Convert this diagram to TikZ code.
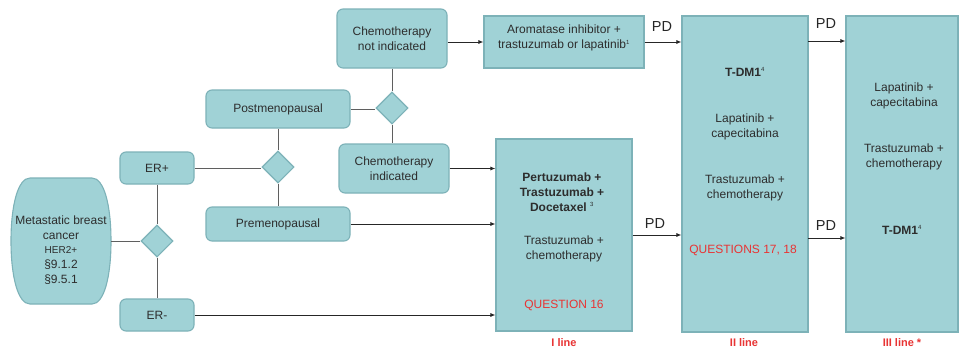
\documentclass[tikz,border=0pt]{standalone}
\usepackage{fontspec}
\setmainfont{Liberation Sans}
\usetikzlibrary{shapes.geometric,arrows.meta}
\definecolor{boxfill}{RGB}{160,210,214}
\definecolor{boxline}{RGB}{125,178,184}
\definecolor{linegray}{RGB}{95,95,95}
\definecolor{qred}{RGB}{232,52,52}
\definecolor{txt}{RGB}{45,45,45}
\begin{document}
\begin{tikzpicture}[x=1pt,y=-1pt,
  rbox/.style={draw=boxline, fill=boxfill, rounded corners=6pt, line width=1.1pt, align=center, inner sep=0pt, font=\fontsize{12}{14.5}\selectfont, text=txt},
  sbox/.style={draw=boxline, fill=boxfill, line width=1.1pt, inner sep=0pt},
  dia/.style={diamond, draw=boxline, fill=boxfill, line width=1.1pt, minimum width=32pt, minimum height=32pt, inner sep=0pt},
  conn/.style={draw=linegray, line width=1pt},
  arr/.style={draw=black!85, line width=0.8pt, -{Latex[length=5pt,width=4pt]}},
  tx/.style={align=center, inner sep=0pt, font=\fontsize{12}{15}\selectfont, text=txt},
  txb/.style={tx, font=\fontsize{12}{15}\selectfont\bfseries},
  qtx/.style={inner sep=0pt, font=\fontsize{12}{14}\selectfont, text=qred},
  pd/.style={inner sep=0pt, font=\fontsize{14.5}{16}\selectfont, text=black!85},
  lbl/.style={inner sep=0pt, font=\fontsize{11}{13}\selectfont\bfseries, text=qred}
]
\fill[white] (0,0) rectangle (962,349);
\path[use as bounding box] (0,0) rectangle (962,349);

% barrel shape for metastatic breast cancer
\draw[draw=boxline, fill=boxfill, line width=1.1pt]
  (30,178) -- (92,178) .. controls (104,178) and (111,205) .. (111,241)
  .. controls (111,277) and (104,304) .. (92,304) -- (30,304)
  .. controls (18,304) and (11,277) .. (11,241)
  .. controls (11,205) and (18,178) .. cycle;
\node[tx, anchor=north] (mbc) at (61,216) {\fontsize{12}{14.5}\selectfont Metastatic breast\\cancer\\[-1pt]\fontsize{10}{12.5}\selectfont HER2+\\§9.1.2\\§9.5.1};
\coordinate (mbcE) at (111,241);

% diamonds
\node[dia] (d1) at (157,241) {};
\node[dia] (d2) at (278,167) {};
\node[dia] (d3) at (392,108) {};

% rounded boxes
\node[rbox, minimum width=74pt, minimum height=32pt] (erp) at (157,168) {ER+};
\node[rbox, minimum width=74pt, minimum height=32pt] (erm) at (157,315) {ER-};
\node[rbox, minimum width=144pt, minimum height=38pt] (post) at (278,109) {Postmenopausal};
\node[rbox, minimum width=144pt, minimum height=34pt] (pre) at (278,224) {Premenopausal};
\node[rbox, minimum width=110pt, minimum height=59pt] (cni) at (392,38.5) {Chemotherapy\\not indicated};
\node[rbox, minimum width=110pt, minimum height=49pt] (ci) at (394,168.5) {Chemotherapy\\indicated};

% square boxes
\node[sbox, minimum width=160pt, minimum height=52pt] (ai) at (564,42) {};
\node[tx] (aitext) at (564,38) {Aromatase inhibitor +\\trastuzumab or lapatinib\textsuperscript{\fontsize{6}{6}\selectfont 1}};
\node[sbox, minimum width=136pt, minimum height=192pt] (l1) at (564,235) {};
\node[sbox, minimum width=126pt, minimum height=316pt] (l2) at (745,174) {};
\node[sbox, minimum width=112pt, minimum height=316pt] (l3) at (902,174) {};

% first line contents
\node[txb] (l1a) at (562,192) {Pertuzumab +\\Trastuzumab +\\Docetaxel \textsuperscript{\fontsize{6}{6}\selectfont\mdseries 3}};
\node[tx] (l1b) at (564,249) {Trastuzumab +\\chemotherapy};
\node[qtx] (l1q) at (564,305) {QUESTION 16};

% second line contents
\node[txb] (l2a) at (745,72) {T-DM1\textsuperscript{\fontsize{6}{6}\selectfont\mdseries 4}};
\node[tx] (l2b) at (745,127) {Lapatinib +\\capecitabina};
\node[tx] (l2c) at (745,188) {Trastuzumab +\\chemotherapy};
\node[qtx] (l2q) at (743,250) {QUESTIONS 17, 18};

% third line contents
\node[tx] (l3a) at (904,96) {Lapatinib +\\capecitabina};
\node[tx] (l3b) at (904,157) {Trastuzumab +\\chemotherapy};
\node[txb] (l3c) at (902,230) {T-DM1\textsuperscript{\fontsize{6}{6}\selectfont\mdseries 4}};

% bottom labels
\node[lbl] (lab1) at (564,343) {I line};
\node[lbl] (lab2) at (744,343) {II line};
\node[lbl] (lab3) at (902,343) {III line *};

% connectors
\draw[conn] (mbcE) -- (d1.west);
\draw[conn] (erp.south) -- (d1.north);
\draw[conn] (d1.south) -- (erm.north);
\draw[conn] (erp.east) -- (erp.east -| d2.west);
\draw[conn] (post.south) -- (d2.north);
\draw[conn] (d2.south) -- (pre.north);
\draw[conn] (post.east) -- (post.east -| d3.west);
\draw[conn] (cni.south -| d3.north) -- (d3.north);
\draw[conn] (d3.south) -- (d3.south |- ci.north);

% arrows
\draw[arr] (ai.west -| cni.east) -- (ai.west);
\draw[arr] (ci.east) -- (ci.east -| l1.west);
\draw[arr] (pre.east) -- (pre.east -| l1.west);
\draw[arr] (erm.east) -- (erm.east -| l1.west);
\draw[arr] (ai.east) -- (ai.east -| l2.west);
\node[pd] (pd1) at (662,27) {PD};
\draw[arr] (l1.east) -- (l1.east -| l2.west);
\node[pd] (pd2) at (655,224) {PD};
\coordinate (o1) at (808,41);
\coordinate (o2) at (808,238);
\draw[arr] (o1) -- (o1 -| l3.west);
\draw[arr] (o2) -- (o2 -| l3.west);
\node[pd] (pd3) at (826,24) {PD};
\node[pd] (pd4) at (826,226) {PD};
\end{tikzpicture}
\end{document}
